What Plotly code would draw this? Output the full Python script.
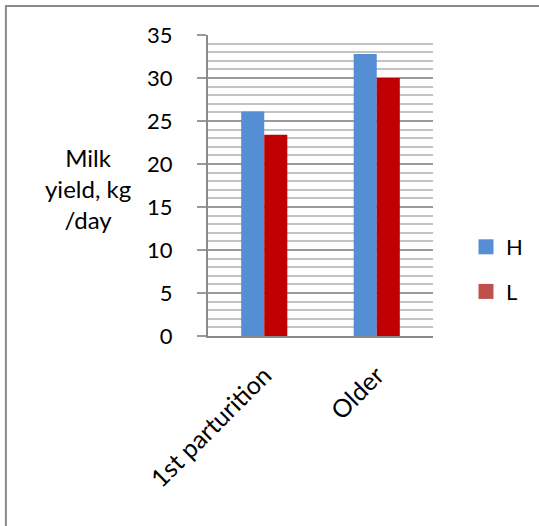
import plotly.graph_objects as go

# Milk yield by parity group for the H and L groups
categories = ["1st parturition", "Older"]
h_values = [26.1, 32.8]
l_values = [23.4, 30.0]
y_ticks = [0, 5, 10, 15, 20, 25, 30, 35]

W, H = 539, 526
L_M, R_M, T_M, B_M = 208, 105, 35, 190
plot_w = W - L_M - R_M
plot_h = H - T_M - B_M

FONT = "Lato"
BLUE = "#558ED5"
RED = "#C00000"
RED_KEY = "#C0504D"
GRID_MAJOR = "#9a9a9a"
GRID_MINOR = "#c2c2c2"
AXIS = "#8a8a8a"


def px_x(px):
    return (px - L_M) / plot_w


def px_y(py):
    return 1 - (py - T_M) / plot_h


fig = go.Figure()
fig.add_trace(go.Bar(x=categories, y=h_values, name="H", marker_color=BLUE,
                     marker_line_width=0, showlegend=False))
fig.add_trace(go.Bar(x=categories, y=l_values, name="L", marker_color=RED,
                     marker_line_width=0, showlegend=False))

# legend keys
fig.add_trace(go.Scatter(x=[None], y=[None], mode="markers", name="H",
                         legendgroup="h",
                         marker=dict(symbol="square", size=15, color=BLUE)))
fig.add_trace(go.Scatter(x=[None], y=[None], mode="markers", name="L",
                         legendgroup="l",
                         marker=dict(symbol="square", size=15, color=RED_KEY)))

fig.update_layout(
    width=W, height=H,
    margin=dict(l=L_M, r=R_M, t=T_M, b=B_M),
    paper_bgcolor="white", plot_bgcolor="white",
    font=dict(family=FONT, size=22, color="#000000"),
    barmode="group", bargap=0.59, bargroupgap=0,
    showlegend=True,
    legend=dict(x=px_x(466), y=px_y(226), xanchor="left", yanchor="top",
                font=dict(size=22), traceorder="grouped", tracegroupgap=13,
                itemwidth=30, bgcolor="rgba(0,0,0,0)"),
    xaxis=dict(
        type="category", showgrid=False, showline=True, linecolor=AXIS,
        linewidth=2, ticks="", tickangle=-45, ticklabelstandoff=13,
        tickfont=dict(size=25),
    ),
    yaxis=dict(
        range=[0, 35], tickvals=y_ticks, showgrid=True, gridcolor=GRID_MAJOR,
        gridwidth=2, showline=True, linecolor=AXIS, linewidth=2,
        ticks="outside", ticklen=9, tickwidth=2, tickcolor=GRID_MAJOR,
        tickfont=dict(size=22), zeroline=False, ticklabelstandoff=20,
        minor=dict(dtick=1, showgrid=True, gridcolor=GRID_MINOR, gridwidth=2,
                   ticks=""),
    ),
    annotations=[
        dict(text="Milk<br>yield, kg<br>/day", xref="paper", yref="paper",
             x=px_x(87), y=px_y(188), xanchor="center", yanchor="middle",
             showarrow=False, align="center", font=dict(size=24)),
    ],
    shapes=[
        dict(type="rect", xref="paper", yref="paper",
             x0=px_x(5), x1=px_x(W + 20), y0=px_y(H + 20), y1=px_y(6),
             line=dict(color=AXIS, width=2), fillcolor="rgba(0,0,0,0)",
             layer="above"),
    ],
)

fig.write_html("out.html")
